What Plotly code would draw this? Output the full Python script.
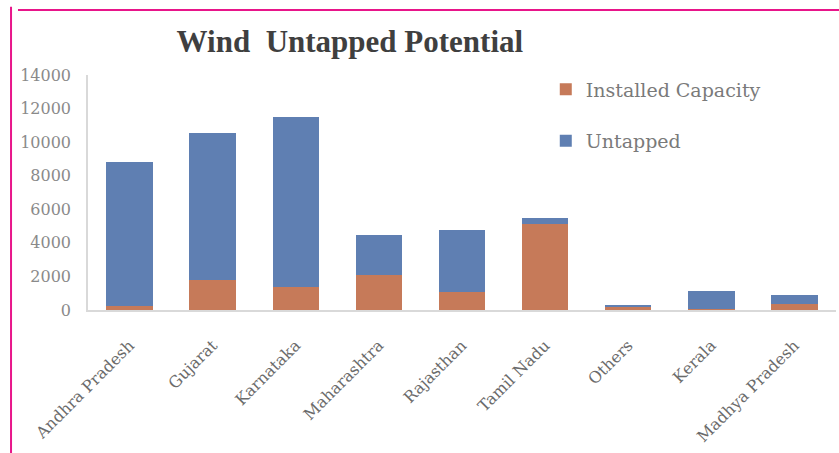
import plotly.graph_objects as go

# Wind energy by state (MW)
states = ["Andhra Pradesh", "Gujarat", "Karnataka", "Maharashtra", "Rajasthan",
          "Tamil Nadu", "Others", "Kerala", "Madhya Pradesh"]
installed = [250, 1800, 1400, 2100, 1050, 5150, 150, 35, 380]
untapped = [8550, 8750, 10100, 2350, 3700, 320, 150, 1100, 520]
y_ticks = [0, 2000, 4000, 6000, 8000, 10000, 12000, 14000]

SERIF = "Liberation Serif, Times New Roman, serif"
WIDE_SERIF = "DejaVu Serif, serif"
ORANGE = "#C67A59"
BLUE = "#5F7FB2"

fig = go.Figure()
fig.add_trace(go.Bar(x=states, y=installed, name="Installed Capacity",
                     marker=dict(color=ORANGE, line=dict(width=0)),
                     legendgroup="a"))
fig.add_trace(go.Bar(x=states, y=untapped, name="Untapped",
                     marker=dict(color=BLUE, line=dict(width=0)),
                     legendgroup="b"))

fig.update_layout(
    width=839, height=453,
    barmode="stack", bargap=0.44,
    paper_bgcolor="white", plot_bgcolor="white",
    margin=dict(l=88, r=3, t=75, b=143),
    font=dict(family=WIDE_SERIF, size=17, color="#6b6b6b"),
    title=dict(text="<b>Wind  Untapped Potential</b>",
               x=0.417, xanchor="center", y=0.91, yanchor="middle",
               font=dict(family=SERIF, size=31, color="#3f3f3f")),
    legend=dict(x=0.612, xanchor="left", y=1.02, yanchor="top",
                traceorder="grouped", tracegroupgap=24,
                itemwidth=30,
                bgcolor="rgba(0,0,0,0)",
                font=dict(family=WIDE_SERIF, size=19, color="#7a7a7a")),
    xaxis=dict(tickangle=-45, showline=True, linecolor="#d9d9d9", linewidth=1.5,
               ticks="", showgrid=False, ticklabelstandoff=18,
               tickfont=dict(family=WIDE_SERIF, size=16, color="#6b6b6b")),
    yaxis=dict(range=[0, 14000], tickvals=y_ticks, tickformat="d",
               showgrid=False,
               showline=True, linecolor="#d9d9d9", linewidth=1.5, ticks="",
               zeroline=False, ticklabelstandoff=12,
               tickfont=dict(family=WIDE_SERIF, size=16, color="#8a8a8a")),
    shapes=[
        dict(type="line", xref="paper", yref="paper", x0=-0.0936, x1=1.01,
             y0=1.2766, y1=1.2766, line=dict(color="#E8158A", width=2)),
        dict(type="line", xref="paper", yref="paper", x0=-0.1029, x1=-0.1029,
             y0=1.29, y1=-0.62, line=dict(color="#E8158A", width=2)),
    ],
)

fig.write_html("out.html")
